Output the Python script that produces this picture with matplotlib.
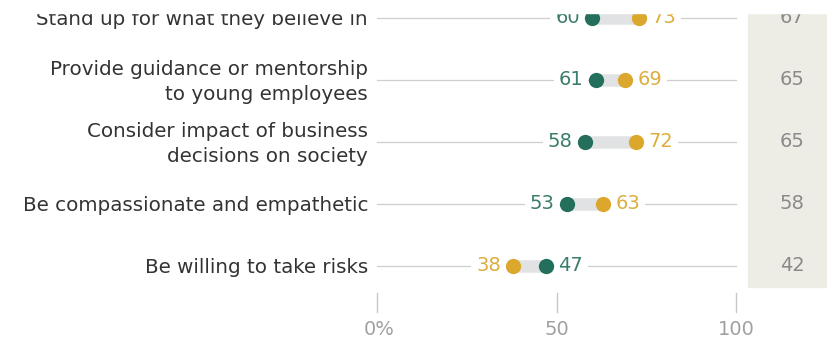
import matplotlib.pyplot as plt
from matplotlib.patches import Rectangle

labels = ["Stand up for what they believe in",
          "Provide guidance or mentorship\nto young employees",
          "Consider impact of business\ndecisions on society",
          "Be compassionate and empathetic",
          "Be willing to take risks"]
green_vals = [60, 61, 58, 53, 47]
gold_vals = [73, 69, 72, 63, 38]
totals = [67, 65, 65, 58, 42]
ticks = [0, 50, 100]
tick_labels = ["0%", "50", "100"]

GREEN = '#236f5b'
GOLD = '#dba72d'
GREEN_TXT = '#3b7d6c'
GOLD_TXT = '#dcae3e'
GRID = '#cfcfcf'
BAR = '#e1e2e3'

plt.rcParams['font.family'] = ['DejaVu Sans']
FS = 14.3
VS = 14

fig = plt.figure(figsize=(8.28, 3.49), dpi=100)
ax = fig.add_axes([0, 0, 1, 1])
ax.set_xlim(-105.0, 125.6)
ax.set_ylim(5.34, -0.29)
ax.axis('off')

# shaded column for totals
ax.add_patch(Rectangle((103.3, -0.29), 30, 4.63, color='#eeede5', zorder=0))

for i, (lab, g, o, t) in enumerate(zip(labels, green_vals, gold_vals, totals)):
    ax.plot([0, 100], [i, i], color=GRID, lw=0.9, zorder=1)
    ax.text(-2.5, i + 0.03, lab, ha='right', va='center', fontsize=FS, color='#333333',
            linespacing=1.42)
    lo, hi = min(g, o), max(g, o)
    ax.plot([lo, hi], [i, i], color=BAR, lw=9, solid_capstyle='butt', zorder=3)
    ax.plot(g, i, 'o', color=GREEN, ms=11, mec='none', zorder=4)
    ax.plot(o, i, 'o', color=GOLD, ms=11, mec='none', zorder=4)
    for v, c in ((g, GREEN_TXT), (o, GOLD_TXT)):
        box = dict(facecolor='white', edgecolor='none', boxstyle='square,pad=0.25')
        if v == lo:
            ax.text(v - 3.5, i, str(v), ha='right', va='center', fontsize=VS, color=c,
                    bbox=box, zorder=2)
        else:
            ax.text(v + 3.5, i, str(v), ha='left', va='center', fontsize=VS, color=c,
                    bbox=box, zorder=2)
    ax.text(115.6, i, str(t), ha='center', va='center', fontsize=VS, color='#8a8a8a')

for t, tl in zip(ticks, tick_labels):
    ax.plot([t, t], [4.44, 4.74], color='#c8c8c8', lw=1)
    ax.text(t + (0.7 if t == 0 else 0), 5.03, tl, ha='center', va='center',
            fontsize=VS, color='#a0a0a0')

# the source picture is cut off along the top edge
fig.patches.append(Rectangle((0, 1 - 13 / 349), 1, 13 / 349, transform=fig.transFigure,
                             color='white', zorder=10))

fig.savefig('out.png', dpi=100)
